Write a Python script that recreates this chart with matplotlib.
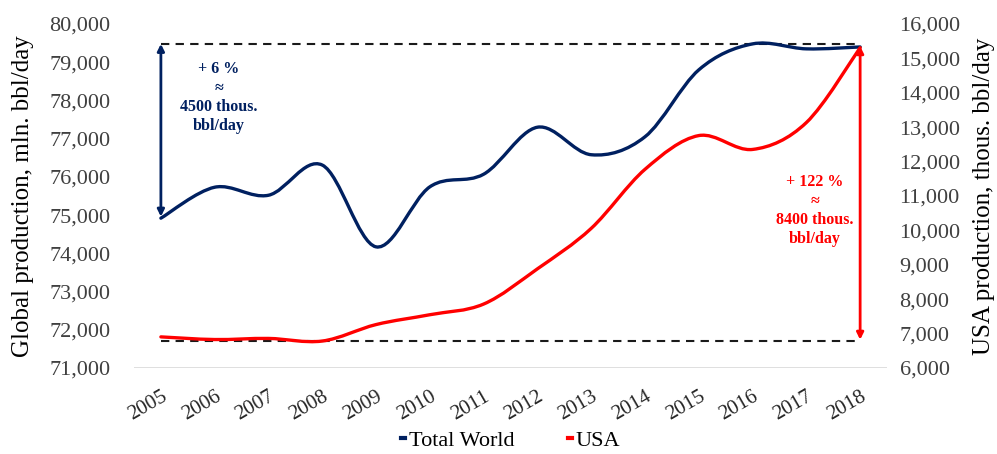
import matplotlib.pyplot as plt
from matplotlib.path import Path
from matplotlib.patches import PathPatch
from matplotlib.ticker import FuncFormatter

plt.rcParams['font.family'] = ['Liberation Serif', 'DejaVu Serif']

years = ['2005', '2006', '2007', '2008', '2009', '2010', '2011',
         '2012', '2013', '2014', '2015', '2016', '2017', '2018']
world = [74920, 75730, 75520, 76310, 74170, 75740, 76070,
         77300, 76580, 77050, 78800, 79480, 79350, 79400]
usa = [6905, 6828, 6860, 6784, 7263, 7549, 7859,
       8883, 10059, 11776, 12757, 12354, 13135, 15311]

top_level = 79480
bottom_level = 71700

BLUE = '#002060'
RED = '#FF0000'


def smooth_path(xs, ys):
    # Excel-style smoothing: bezier segments through every point
    verts = [(xs[0], ys[0])]
    codes = [Path.MOVETO]
    n = len(xs)
    for i in range(n - 1):
        p0 = (xs[max(i - 1, 0)], ys[max(i - 1, 0)])
        p1 = (xs[i], ys[i])
        p2 = (xs[i + 1], ys[i + 1])
        p3 = (xs[min(i + 2, n - 1)], ys[min(i + 2, n - 1)])
        c1 = (p1[0] + (p2[0] - p0[0]) / 6, p1[1] + (p2[1] - p0[1]) / 6)
        c2 = (p2[0] - (p3[0] - p1[0]) / 6, p2[1] - (p3[1] - p1[1]) / 6)
        verts += [c1, c2, p2]
        codes += [Path.CURVE4] * 3
    return Path(verts, codes)


fig = plt.figure(figsize=(9.97, 4.54), dpi=100)
ax = fig.add_axes([0.1344, 0.1894, 0.7553, 0.7577])
ax2 = ax.twinx()

x = list(range(len(years)))

ax.add_patch(PathPatch(smooth_path(x, world), fill=False, edgecolor=BLUE,
                       lw=2.4, capstyle='round', zorder=3))
ax2.add_patch(PathPatch(smooth_path(x, usa), fill=False, edgecolor=RED,
                        lw=2.4, capstyle='round', zorder=3))
# empty lines just for the legend
ax.plot([], [], color=BLUE, lw=2.4, label='Total World')
ax.plot([], [], color=RED, lw=2.4, label='USA')

ax.set_xlim(-0.5, len(years) - 0.5)
ax.set_ylim(71000, 80000)
ax2.set_ylim(6000, 16000)
ax.set_yticks(range(71000, 80001, 1000))
ax2.set_yticks(range(6000, 16001, 1000))
fmt = FuncFormatter(lambda v, p: '{:,.0f}'.format(v))
ax.yaxis.set_major_formatter(fmt)
ax2.yaxis.set_major_formatter(fmt)

ax.set_xticks(x)
ax.set_xticklabels(years, rotation=30, fontsize=15, ha='right',
                   rotation_mode='anchor', color='#262626')
ax.tick_params(axis='x', length=0, pad=14)
ax.tick_params(axis='y', length=0, labelsize=16, labelcolor='#404040', pad=17)
ax2.tick_params(axis='y', length=0, labelsize=16, labelcolor='#404040', pad=9)

for a in (ax, ax2):
    for s in a.spines.values():
        s.set_visible(False)
ax.axhline(71000, color='#D9D9D9', lw=1.2, zorder=1)

ax.set_ylabel('Global production, mln. bbl/day', fontsize=18, labelpad=11)
ax2.set_ylabel('USA production, thous. bbl/day', fontsize=18, labelpad=9)

# dashed reference lines
ax.plot([0, len(years) - 1], [top_level, top_level], ls=(0, (4, 3)),
        color='#1a1a1a', lw=1.5, zorder=2)
ax.plot([0, len(years) - 1], [bottom_level, bottom_level], ls=(0, (4, 3)),
        color='#1a1a1a', lw=1.5, zorder=2)

# arrows
ax.annotate('', xy=(0, top_level), xytext=(0, world[0] + 40),
            arrowprops=dict(arrowstyle='<|-|>', color=BLUE, lw=2,
                            mutation_scale=10, shrinkA=0, shrinkB=0))
ax.annotate('', xy=(len(years) - 1, world[-1] + 20), xytext=(len(years) - 1, bottom_level + 40),
            arrowprops=dict(arrowstyle='<|-|>', color=RED, lw=2,
                            mutation_scale=10, shrinkA=0, shrinkB=0))

ax.text(1.08, 78090, '+ 6 %\n≈\n4500 thous.\nbbl/day', color=BLUE,
        fontsize=11.5, fontweight='bold', ha='center', va='center',
        linespacing=1.25)
ax.text(12.16, 75130, '+ 122 %\n≈\n8400 thous.\nbbl/day', color=RED,
        fontsize=11.5, fontweight='bold', ha='center', va='center',
        linespacing=1.25)

leg = ax.legend(loc='lower center', bbox_to_anchor=(0.5, -0.30), ncol=2,
                frameon=False, fontsize=16, handlelength=0.2,
                handletextpad=0.15, columnspacing=2.4)
for h in leg.get_lines():
    h.set_linewidth(3)

fig.savefig('out.png', dpi=100)
